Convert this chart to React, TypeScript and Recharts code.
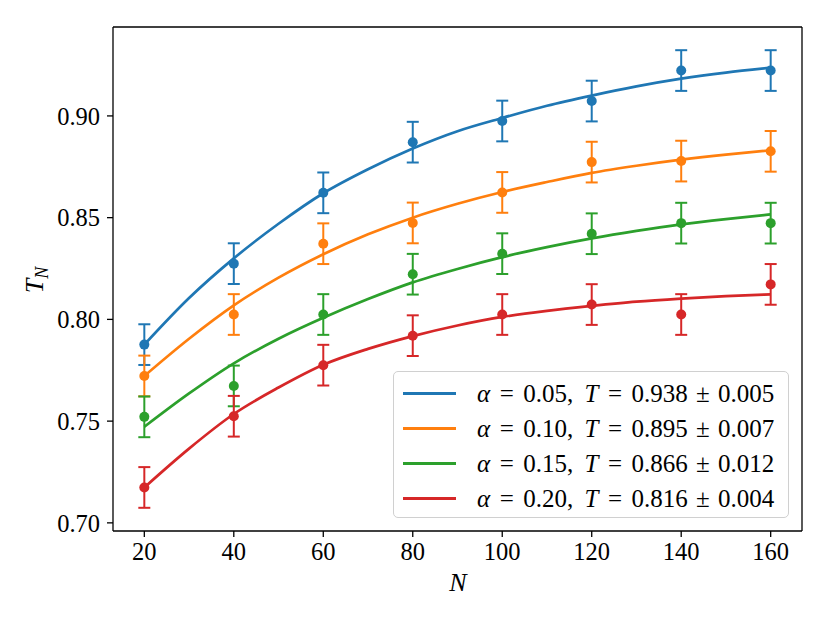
import React from "react";
import { ComposedChart, Line, Scatter, ErrorBar, XAxis, YAxis, Legend, ReferenceLine } from "recharts";

// measured points (every 20) and fitted curves (read every 10)
const nMeasured = [20, 40, 60, 80, 100, 120, 140, 160];
const blueMeasured = [0.7876, 0.8274, 0.8622, 0.8871, 0.8975, 0.9073, 0.9223, 0.9223];
const orangeMeasured = [0.7722, 0.8024, 0.8372, 0.8474, 0.8624, 0.8773, 0.8778, 0.8826];
const greenMeasured = [0.7521, 0.7673, 0.8024, 0.8222, 0.8323, 0.8421, 0.8473, 0.8473];
const redMeasured = [0.7174, 0.7524, 0.7775, 0.7920, 0.8024, 0.8073, 0.8024, 0.8172];
const errors = [0.01, 0.01, 0.01, 0.01, 0.01, 0.01, 0.01, 0.01];

const nFit = [20, 30, 40, 50, 60, 70, 80, 90, 100, 110, 120, 130, 140, 150, 160];
const blueFit = [0.7876, 0.8105, 0.83, 0.847, 0.862, 0.8738, 0.884, 0.8925, 0.899, 0.905, 0.91, 0.9145, 0.9183, 0.9213, 0.9237];
const orangeFit = [0.7722, 0.7905, 0.8069, 0.8205, 0.832, 0.8418, 0.85, 0.8568, 0.8626, 0.8675, 0.872, 0.8755, 0.8785, 0.881, 0.8831];
const greenFit = [0.7472, 0.7636, 0.7784, 0.7905, 0.8008, 0.81, 0.8182, 0.8248, 0.8306, 0.8355, 0.8398, 0.8435, 0.8467, 0.8493, 0.8516];
const redFit = [0.7174, 0.7365, 0.7535, 0.7665, 0.7777, 0.7855, 0.7918, 0.797, 0.8012, 0.8042, 0.8066, 0.8087, 0.8102, 0.8114, 0.8123];

const alphas = ["0.05", "0.10", "0.15", "0.20"];
const fitT = ["0.938", "0.895", "0.866", "0.816"];
const fitErr = ["0.005", "0.007", "0.012", "0.004"];

const xTicks = [20, 40, 60, 80, 100, 120, 140, 160];
const yTicks = [0.7, 0.75, 0.8, 0.85, 0.9];
const xDomain = [13, 167];
const yDomain = [0.696, 0.9437];

const colors = ["#1f77b4", "#ff7f0e", "#2ca02c", "#d62728"];
const font = "'Liberation Serif', 'DejaVu Serif', serif";

const fitRows = nFit.map((n, i) => ({
  N: n,
  a05: blueFit[i],
  a10: orangeFit[i],
  a15: greenFit[i],
  a20: redFit[i],
}));

const measured = [blueMeasured, orangeMeasured, greenMeasured, redMeasured].map((vals) =>
  nMeasured.map((n, i) => ({ N: n, T: vals[i], err: errors[i] }))
);

const fitKeys = ["a05", "a10", "a15", "a20"];

const op = (s: string, m: number) => <span style={{ margin: `0 ${m}em` }}>{s}</span>;

function LegendBox() {
  return (
    <div
      style={{
        width: 396,
        height: 147,
        boxSizing: "border-box",
        border: "1.3px solid #d0d0d0",
        borderRadius: 5,
        background: "rgba(255,255,255,0.8)",
        fontFamily: font,
        fontSize: 25,
        color: "#000",
        paddingTop: 4,
      }}
    >
      {alphas.map((a, i) => (
        <div key={a} style={{ height: 35, display: "flex", alignItems: "center" }}>
          <div style={{ width: 53, height: 3, background: colors[i], marginLeft: 9, marginRight: 21 }} />
          <span style={{ whiteSpace: "pre" }}>
            <i>α</i>
            {op("=", 0.38)}
            {a},<span style={{ marginLeft: "0.45em" }} />
            <i>T</i>
            {op("=", 0.38)}
            {fitT[i]}
            {op("±", 0.33)}
            {fitErr[i]}
          </span>
        </div>
      ))}
    </div>
  );
}

export default function App() {
  return (
    <div style={{ position: "absolute", left: 0, top: 0, background: "#fff" }}>
      <ComposedChart
        width={830}
        height={623}
        data={fitRows}
        margin={{ top: 27, right: 28, bottom: 0, left: 0 }}
      >
        <XAxis
          dataKey="N"
          type="number"
          domain={xDomain}
          ticks={xTicks}
          allowDataOverflow
          height={92}
          stroke="#000"
          strokeWidth={1.3}
          tickSize={6}
          tickMargin={6}
          tick={{ fontSize: 24.5, fill: "#000", fontFamily: font }}
          label={{
            content: () => (
              <text x={458} y={591} textAnchor="middle" fontFamily={font} fontSize={26} fontStyle="italic">
                N
              </text>
            ),
          }}
        />
        <YAxis
          type="number"
          domain={yDomain}
          ticks={yTicks}
          allowDataOverflow
          width={113}
          stroke="#000"
          strokeWidth={1.3}
          tickSize={6}
          tickMargin={7}
          tickFormatter={(v: number) => v.toFixed(2)}
          tick={{ fontSize: 24.5, fill: "#000", fontFamily: font }}
          label={{
            content: () => (
              <text
                x={43}
                y={280}
                textAnchor="middle"
                transform="rotate(-90 43 280)"
                fontFamily={font}
                fontSize={26}
                fontStyle="italic"
              >
                T
                <tspan fontSize={18} dy={5}>
                  N
                </tspan>
              </text>
            ),
          }}
        />
        <ReferenceLine x={xDomain[1]} stroke="#000" strokeWidth={1.3} />
        <ReferenceLine y={yDomain[1]} stroke="#000" strokeWidth={1.3} />
        {measured.map((rows, i) => (
          <Scatter
            key={"s" + i}
            data={rows}
            dataKey="T"
            isAnimationActive={false}
            legendType="none"
            shape={(p: any) => <circle cx={p.cx} cy={p.cy} r={5} fill={colors[i]} />}
          >
            <ErrorBar dataKey="err" direction="y" width={6} stroke={colors[i]} strokeWidth={2} />
          </Scatter>
        ))}
        {fitKeys.map((k, i) => (
          <Line
            key={k}
            dataKey={k}
            type="monotone"
            stroke={colors[i]}
            strokeWidth={2.7}
            dot={false}
            activeDot={false}
            isAnimationActive={false}
          />
        ))}
        <Legend
          layout="vertical"
          align="center"
          verticalAlign="middle"
          content={() => <LegendBox />}
          wrapperStyle={{ position: "absolute", left: 393, top: 371, width: 396, height: 147 }}
        />
      </ComposedChart>
    </div>
  );
}
